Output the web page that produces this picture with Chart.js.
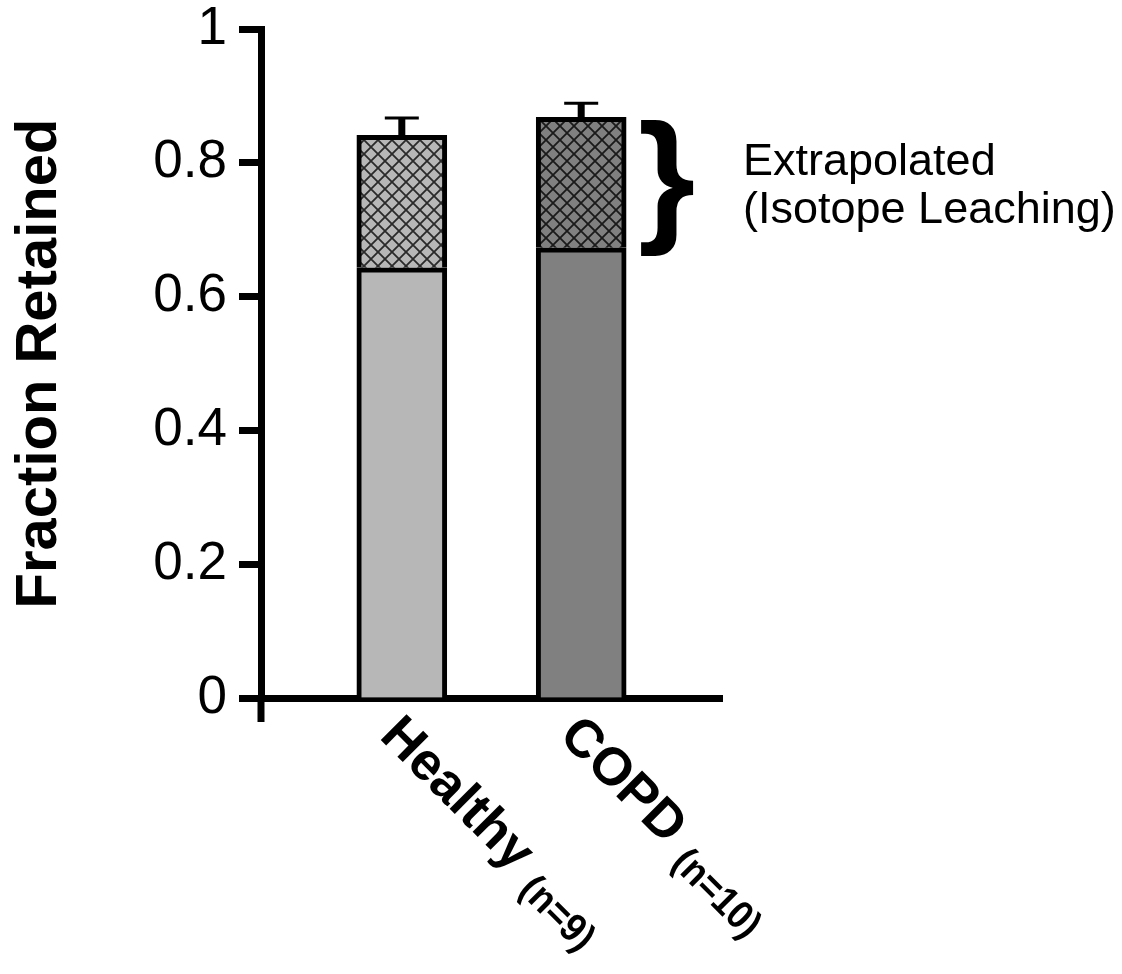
<!DOCTYPE html>
<html>
<head>
<meta charset="utf-8">
<script src="https://cdn.jsdelivr.net/npm/chart.js@4/dist/chart.umd.min.js"></script>
<style>
    html, body { margin: 0; padding: 0; background: #fff; }
    #wrap { width: 1122px; height: 974px; position: relative; }
</style>
</head>
<body>
<div id="wrap"><canvas id="chart"></canvas></div>
<script>
// Chart data
const categories = ['Healthy', 'COPD'];
const groupSizes = ['(n=9)', '(n=10)'];
const measured = [0.643, 0.673];
const extrapolated = [0.198, 0.195];
const errors = [0.026, 0.021];
const yTicks = [0, 0.2, 0.4, 0.6, 0.8, 1];

const FONT = '"Liberation Sans", Arial, Helvetica, sans-serif';
const solidColors = ['#b7b7b7', '#808080'];

// cross hatch fill for the extrapolated part
function hatch(base, line) {
    const c = document.createElement('canvas');
    c.width = 14; c.height = 14;
    const g = c.getContext('2d');
    g.fillStyle = base;
    g.fillRect(0, 0, 14, 14);
    g.strokeStyle = line;
    g.lineWidth = 1.8;
    g.beginPath();
    g.moveTo(-1, -1); g.lineTo(15, 15);
    g.moveTo(-1, 15); g.lineTo(15, -1);
    g.stroke();
    return g.createPattern(c, 'repeat');
}
const hatchColors = [hatch('#b7b7b7', '#2a2a2a'), hatch('#808080', '#1a1a1a')];

// error bars, x labels, brace and note
const extras = {
    id: 'extras',
    afterDatasetsDraw(chart) {
        const ctx = chart.ctx;
        const xs = chart.scales.x, ys = chart.scales.y;
        ctx.save();
        ctx.strokeStyle = '#000';
        categories.forEach((c, i) => {
            const x = xs.getPixelForValue(i);
            const top = ys.getPixelForValue(measured[i] + extrapolated[i]);
            const cap = ys.getPixelForValue(measured[i] + extrapolated[i] + errors[i]);
            ctx.lineWidth = 7;
            ctx.beginPath(); ctx.moveTo(x, top); ctx.lineTo(x, cap); ctx.stroke();
            ctx.lineWidth = 3;
            ctx.beginPath(); ctx.moveTo(x - 17, cap); ctx.lineTo(x + 17, cap); ctx.stroke();
        });
        ctx.restore();
    },
    afterDraw(chart) {
        const ctx = chart.ctx;
        const xs = chart.scales.x, ys = chart.scales.y;
        const area = chart.chartArea;
        ctx.save();
        ctx.fillStyle = '#000';
        ctx.strokeStyle = '#000';

        // y axis continues a little below the x axis
        ctx.lineWidth = 7;
        ctx.beginPath();
        ctx.moveTo(area.left, area.bottom);
        ctx.lineTo(area.left, area.bottom + 24);
        ctx.stroke();

        // rotated category labels
        categories.forEach((c, i) => {
            const x = xs.getPixelForValue(i);
            ctx.save();
            ctx.translate(x + 4, area.bottom + 12);
            ctx.rotate(Math.PI / 4);
            ctx.textBaseline = 'alphabetic';
            ctx.textAlign = 'left';
            ctx.font = 'bold 53px ' + FONT;
            ctx.fillText(c, 0, 39);
            const w = ctx.measureText(c).width + 16;
            ctx.font = 'bold 40px ' + FONT;
            ctx.translate(w, 49);
            ctx.scale(0.9, 1);
            ctx.fillText(groupSizes[i], 0, 0);
            ctx.restore();
        });

        // brace next to the COPD extrapolated part
        const bTop = ys.getPixelForValue(measured[1] + extrapolated[1]) + 3;
        const bBot = ys.getPixelForValue(measured[1]) + 10;
        ctx.font = 'bold 150px ' + FONT;
        let m = ctx.measureText('}');
        const size = 150 * (bBot - bTop) / (m.actualBoundingBoxAscent + m.actualBoundingBoxDescent);
        ctx.font = 'bold ' + size + 'px ' + FONT;
        m = ctx.measureText('}');
        ctx.textAlign = 'left';
        ctx.textBaseline = 'alphabetic';
        ctx.fillText('}', 641 + m.actualBoundingBoxLeft, bTop + m.actualBoundingBoxAscent);

        ctx.font = '45px ' + FONT;
        ctx.fillText('Extrapolated', 743, 175);
        ctx.fillText('(Isotope Leaching)', 743, 223);
        ctx.restore();
    }
};

new Chart(document.getElementById('chart'), {
    type: 'bar',
    data: {
        datasets: [{
            label: 'Measured',
            data: measured.map((v, i) => ({ x: i, y: v })),
            backgroundColor: solidColors,
            borderColor: '#000',
            borderWidth: 5,
            barThickness: 90
        }, {
            label: 'Extrapolated',
            data: extrapolated.map((v, i) => ({ x: i, y: v })),
            backgroundColor: hatchColors,
            borderColor: '#000',
            borderWidth: 5,
            barThickness: 90
        }]
    },
    plugins: [extras],
    options: {
        responsive: true,
        maintainAspectRatio: false,
        animation: false,
        layout: { padding: { top: 29, right: 400, left: 0, bottom: 0 } },
        plugins: {
            legend: { display: false },
            tooltip: { enabled: false }
        },
        scales: {
            x: {
                type: 'linear',
                stacked: true,
                offset: false,
                min: -0.785,
                max: 1.785,
                ticks: { display: false },
                grid: { display: false },
                border: { display: true, color: '#000', width: 7 },
                afterFit: s => {
                    s.height = 276;
                    s.paddingLeft = 0; s.paddingRight = 0;
                }
            },
            y: {
                stacked: true,
                min: 0,
                max: 1,
                afterBuildTicks: s => { s.ticks = yTicks.map(v => ({ value: v })); },
                ticks: {
                    color: '#000',
                    padding: 12,
                    font: { family: FONT, size: 53 },
                    callback: v => String(v)
                },
                grid: {
                    drawOnChartArea: false,
                    drawTicks: true,
                    tickLength: 22,
                    tickWidth: 7,
                    tickColor: '#000'
                },
                border: { display: true, color: '#000', width: 7 },
                title: {
                    display: true,
                    text: 'Fraction Retained',
                    color: '#000',
                    font: { family: FONT, size: 58, weight: 'bold' },
                    padding: { top: 5, bottom: 0 }
                },
                afterFit: s => {
                    s.width = 261;
                    s.paddingTop = 0; s.paddingBottom = 0;
                }
            }
        }
    }
});
</script>
</body>
</html>
